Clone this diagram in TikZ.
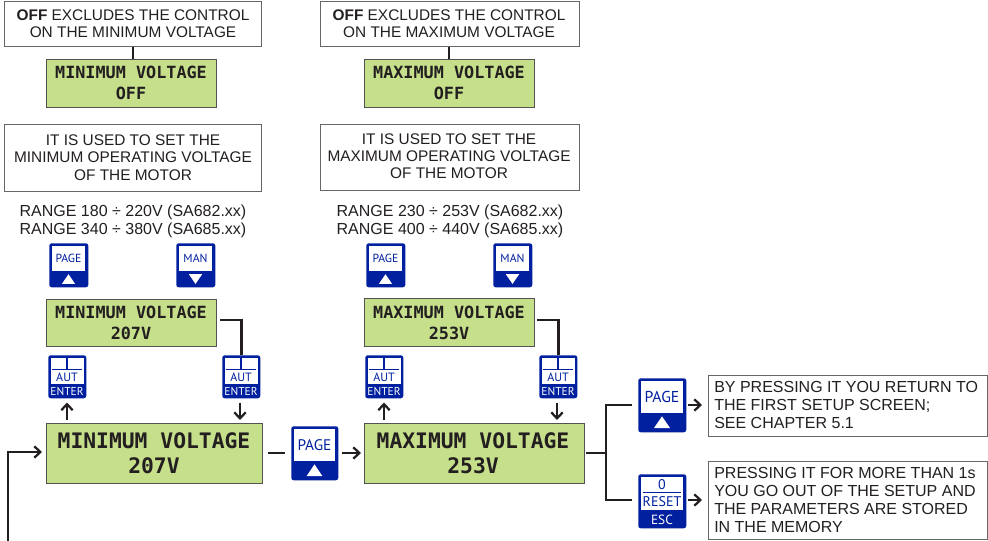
\documentclass[tikz,border=0pt]{standalone}
\usepackage{fontspec}
\setmainfont{Liberation Sans}
\newfontfamily\lcdfont{DejaVu Sans Mono}
\newfontfamily\btnfont{PT Sans}
\usetikzlibrary{arrows.meta}
\definecolor{lcdgreen}{HTML}{C6DF8B}
\definecolor{btnblue}{HTML}{00209F}
\definecolor{linedark}{HTML}{231F20}
\definecolor{boxgray}{HTML}{666666}
\tikzset{
  x=0.75pt,y=-0.75pt,
  infobox/.style={draw=boxgray,line width=0.9pt,fill=white,inner sep=0pt,anchor=north west},
  infotext/.style={font=\fontsize{11.55pt}{12.9pt}\selectfont,text=linedark,align=center,inner sep=0pt},
  rangetext/.style={font=\fontsize{12pt}{13.3pt}\selectfont,text=linedark,align=center,inner sep=0pt},
  sidetext/.style={font=\fontsize{12pt}{13.5pt}\selectfont,text=linedark,align=left,inner sep=0pt,anchor=west},
  lcd/.style={draw=boxgray!80!black,line width=0.9pt,fill=lcdgreen,inner sep=0pt,anchor=north west},
  lcdsmall/.style={font=\lcdfont\bfseries\fontsize{12.6pt}{15.8pt}\selectfont,text=linedark,align=center,inner sep=0pt},
  lcdbig/.style={font=\lcdfont\bfseries\fontsize{16pt}{18.9pt}\selectfont,text=linedark,align=center,inner sep=0pt},
  conn/.style={draw=linedark,line width=1.9pt},
  arrow/.style={conn,-{Straight Barb[length=4.5pt,width=8.5pt,line width=1.7pt]}},
  btn/.style={fill=btnblue,rounded corners=1.8pt,inner sep=0pt,anchor=north west},
  btnin/.style={fill=white},
  btntext/.style={text=btnblue,inner sep=0pt},
  btnlow/.style={text=white,inner sep=0pt},
}
% name, x, y, width, height, label, up(1)/down(-1), font size
\newcommand{\triBtn}[8]{%
  \node[btn,minimum width=#4*0.75pt,minimum height=#5*0.75pt] (#1) at (#2,#3) {};
  \fill[btnin] (#2+#4*0.07,#3+#5*0.06) rectangle (#2+#4*0.93,#3+#5*0.64);
  \node[btntext,font=\btnfont\fontsize{#8}{#8}\selectfont] at (#2+#4*0.5,#3+#5*0.35) {#6};
  \fill[white] (#2+#4*0.5,#3+#5*0.82-#7*#5*0.11) -- (#2+#4*0.5-#4*0.17,#3+#5*0.82+#7*#5*0.11) -- (#2+#4*0.5+#4*0.17,#3+#5*0.82+#7*#5*0.11) -- cycle;
}
\newcommand{\autBtn}[3]{%
  \node[btn,minimum width=38*0.75pt,minimum height=43*0.75pt] (#1) at (#2,#3) {};
  \fill[btnin] (#2+2.5,#3+2.5) rectangle (#2+35.5,#3+29);
  \draw[btnblue,line width=0.7pt] (#2+4,#3+14.5) -- (#2+34,#3+14.5);
  \draw[btnblue,line width=0.8pt] (#2+19,#3+3) -- (#2+19,#3+14.5);
  \node[btntext,font=\btnfont\fontsize{9pt}{9pt}\selectfont] at (#2+19,#3+22) {AUT};
  \node[btnlow,font=\btnfont\fontsize{8.6pt}{8.6pt}\selectfont] at (#2+19,#3+36) {ENTER};
}
\begin{document}
\begin{tikzpicture}
\useasboundingbox (0,0) rectangle (988,540);
% top boxes
\node[infobox,minimum width=257*0.75pt,minimum height=45*0.75pt] (offa) at (4,1) {};
\node[infotext] at (133,24) {\textbf{OFF} EXCLUDES THE CONTROL\\ON THE MINIMUM VOLTAGE};
\node[infobox,minimum width=259*0.75pt,minimum height=45*0.75pt] (offb) at (320,1) {};
\node[infotext] at (449,24) {\textbf{OFF} EXCLUDES THE CONTROL\\ON THE MAXIMUM VOLTAGE};
\node[lcd,minimum width=170*0.75pt,minimum height=48*0.75pt] (lcdoffa) at (46,59) {};
\node[lcdsmall] at (131,83) {MINIMUM VOLTAGE\\OFF};
\node[lcd,minimum width=170*0.75pt,minimum height=48*0.75pt] (lcdoffb) at (364,59) {};
\node[lcdsmall] at (449,83) {MAXIMUM VOLTAGE\\OFF};
\draw[conn] (offa.south -| 133,0) -- (133,59);
\draw[conn] (offb.south -| 449,0) -- (449,59);
% description boxes
\node[infobox,minimum width=257*0.75pt,minimum height=67*0.75pt] (desa) at (4,124) {};
\node[infotext] at (133,157.5) {IT IS USED TO SET THE\\MINIMUM OPERATING VOLTAGE\\OF THE MOTOR};
\node[infobox,minimum width=259*0.75pt,minimum height=66*0.75pt] (desb) at (320,124) {};
\node[infotext] at (449,156) {IT IS USED TO SET THE\\MAXIMUM OPERATING VOLTAGE\\OF THE MOTOR};
\node[rangetext] (rangea) at (133,221) {RANGE 180 ÷ 220V (SA682.xx)\\RANGE 340 ÷ 380V (SA685.xx)};
\node[rangetext] (rangeb) at (450,221) {RANGE 230 ÷ 253V (SA682.xx)\\RANGE 400 ÷ 440V (SA685.xx)};
% page / man
\triBtn{pa}{49}{243}{39}{44}{PAGE}{1}{8.8pt}
\triBtn{ma}{176}{243}{39}{44}{MAN}{-1}{8.8pt}
\triBtn{pb}{366}{243}{39}{44}{PAGE}{1}{8.8pt}
\triBtn{mb}{493}{243}{39}{44}{MAN}{-1}{8.8pt}
% small lcds
\node[lcd,minimum width=170*0.75pt,minimum height=47*0.75pt] (sa) at (46,299) {};
\node[lcdsmall] at (131,323) {MINIMUM VOLTAGE\\207V};
\node[lcd,minimum width=170*0.75pt,minimum height=48*0.75pt] (sb) at (364,298) {};
\node[lcdsmall] at (449,323) {MAXIMUM VOLTAGE\\253V};
% aut buttons
\autBtn{a1}{48}{355}
\autBtn{a2}{222}{355}
\autBtn{b1}{365}{355}
\autBtn{b2}{539}{355}
% big lcds
\node[lcd,minimum width=216*0.75pt,minimum height=60*0.75pt] (la) at (46,423) {};
\node[lcdbig] at (154,453) {MINIMUM VOLTAGE\\207V};
\node[lcd,minimum width=220*0.75pt,minimum height=60*0.75pt] (lb) at (364,423) {};
\node[lcdbig] at (473,453) {MAXIMUM VOLTAGE\\253V};
% central and right buttons
\triBtn{pc}{291}{426}{47}{54}{PAGE}{1}{11.5pt}
\triBtn{pd}{638}{378}{48}{54}{PAGE}{1}{11.8pt}
\node[btn,minimum width=48*0.75pt,minimum height=54*0.75pt] (rs) at (638,474) {};
\fill[btnin] (641,477) rectangle (683,510);
\draw[btnblue,line width=0.7pt] (643,492) -- (681,492);
\node[btntext,font=\btnfont\fontsize{10.5pt}{10.5pt}\selectfont] at (662,484.5) {0};
\node[btntext,font=\btnfont\fontsize{10.5pt}{10.5pt}\selectfont] at (662,501.5) {RESET};
\node[btnlow,font=\btnfont\fontsize{10pt}{10pt}\selectfont] at (662,519.5) {ESC};
% side boxes
\node[infobox,minimum width=279*0.75pt,minimum height=61*0.75pt] (ta) at (708,375) {};
\node[sidetext] at (714,405) {BY PRESSING IT YOU RETURN TO\\THE FIRST SETUP SCREEN;\\SEE CHAPTER 5.1};
\node[infobox,minimum width=279*0.75pt,minimum height=78*0.75pt] (tb) at (708,461) {};
\node[sidetext] at (714,500) {PRESSING IT FOR MORE THAN 1s\\YOU GO OUT OF THE SETUP AND\\THE PARAMETERS ARE STORED\\IN THE MEMORY};
% connectors
\coordinate (sastart) at (220,320);
\coordinate (sbstart) at (537,320);
\coordinate (loop) at (8,541);
\coordinate (jl) at (606,453);
\draw[conn] (sastart) -| (a2.north);
\draw[conn] (sbstart) -| (b2.north);
\draw[arrow] (67,420) -- (67,402.5);
\draw[arrow] (240,402.5) -- (240,420);
\draw[arrow] (384,420) -- (384,402.5);
\draw[arrow] (557,402.5) -- (557,420);
\draw[arrow] (loop) |- (42,452);
\draw[conn] (268,453) -- (285,453);
\draw[arrow] (342,453) -- (361,453);
\draw[conn] (586,453) -- (jl);
\draw[conn] (632,405) -| (jl) |- (632,500);
\draw[arrow] (688,405) -- (702,405);
\draw[arrow] (688,500) -- (702,500);
\end{tikzpicture}
\end{document}
